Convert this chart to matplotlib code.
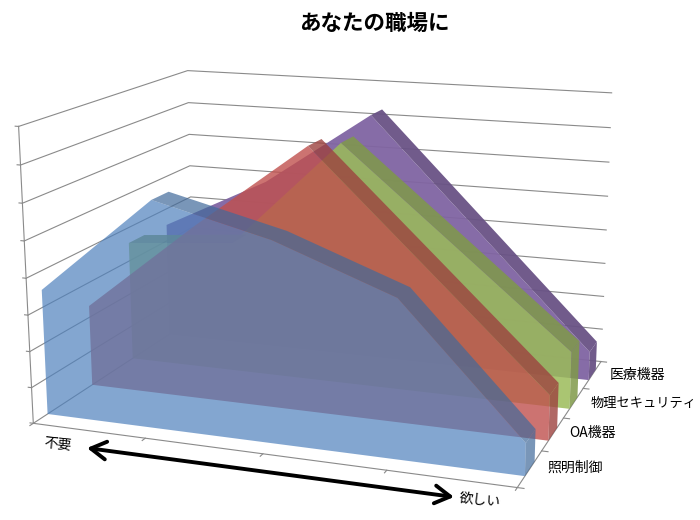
import numpy as np
import matplotlib
matplotlib.use('Agg')
import matplotlib.pyplot as plt
from matplotlib.patches import FancyArrowPatch
from mpl_toolkits.mplot3d.art3d import Poly3DCollection

plt.rcParams['font.family'] = ['Noto Sans CJK JP', 'DejaVu Sans']

series_names = ['照明制御', 'OA機器', '物理セキュリティ', '医療機器']
x_ends = ['不要', '欲しい']

# values per category, unit is one gridline step
lighting = [3.48, 6.17, 5.39, 4.21, 0.86]
oa = [2.33, 4.90, 7.31, 4.28, 1.24]
security = [3.54, 3.82, 6.93, 4.28, 1.62]
medical = [3.50, 5.08, 7.28, 4.06, 0.84]

all_values = [lighting, oa, security, medical]
colors = ['#4F81BD', '#C0504D', '#9BBB59', '#8064A2']
alphas = [0.7, 0.8, 0.85, 0.95]
label_sizes = [10, 10, 9.5, 10]

W, H = 700, 520
fig = plt.figure(figsize=(W/100, H/100), dpi=100)
ax = fig.add_axes([-0.0062, -0.1324, 0.9348, 1.2584], projection='3d', computed_zorder=False)
ax.set_xlim(0, 4, view_margin=0)
ax.set_ylim(0, 4, view_margin=0)
ax.set_zlim(0, 8, view_margin=0)
ax.view_init(14.53, -70.011, 0.136)
ax.set_proj_type('persp', focal_length=0.477)
ax.set_box_aspect((0.804, 0.625, 0.488))
ax.set_axis_off()
ax.patch.set_visible(False)

grid = dict(color='#8A8A8A', lw=0.8, zorder=1)
for z in range(9):
    ax.plot([0, 0, 4], [0, 4, 4], [z, z, z], **grid)
    ax.plot([0, -0.03], [0, 0], [z, z], **grid)
ax.plot([0, 0], [0, 0], [0, 8], **grid)
ax.plot([0, 4, 4], [0, 0, 4], [0, 0, 0], **grid)
for i in range(5):
    ax.plot([i, i], [0, -0.07], [0, 0], **grid)
    ax.plot([4, 4.05], [i, i], [0, 0], **grid)


def darker(color, k=0.82):
    return tuple(c*k for c in matplotlib.colors.to_rgb(color))


def roof_runs(vals):
    # steep rising roof is hidden behind the front face, the rest is joined into runs
    runs, run = [], []
    for i in range(len(vals) - 1):
        if vals[i+1] < vals[i] + 0.5:
            run = run or [i]
            run.append(i + 1)
        elif run:
            runs.append(run)
            run = []
    if run:
        runs.append(run)
    return runs


# back series first so the transparency stacks like the original
y_front, y_back = 0.3, 0.7
for s in [3, 2, 1, 0]:
    vals = all_values[s]
    y0, y1 = s + y_front, s + y_back
    xs = range(len(vals))
    face = [(i, y0, v) for i, v in zip(xs, vals)] + [(4, y0, 0), (0, y0, 0)]
    ax.add_collection3d(Poly3DCollection([face], facecolor=colors[s], edgecolor='none',
                                         alpha=alphas[s], zorder=10*(4-s)))
    polys = []
    for run in roof_runs(vals):
        polys.append([(i, y0, vals[i]) for i in run] + [(i, y1, vals[i]) for i in run[::-1]])
    polys.append([(4, y0, 0), (4, y0, vals[-1]), (4, y1, vals[-1]), (4, y1, 0)])
    ax.add_collection3d(Poly3DCollection(polys, facecolor=darker(colors[s]), edgecolor='none',
                                         alpha=alphas[s], zorder=10*(4-s)+1))


def label(px, py, text, **kw):
    fig.text(px/W, 1 - py/H, text, va='center', **kw)


fig.text(374/W, 1 - 23/H, 'あなたの職場に', ha='center', va='center', fontsize=15.5, fontweight='bold')
for px, py, name, size in zip([547, 569, 591, 610], [468, 433, 403, 375], series_names, label_sizes):
    label(px, py, name, fontsize=size, ha='left')
label(44, 443, x_ends[0], fontsize=10, ha='left', rotation=-6, rotation_mode='anchor')
label(459, 498, x_ends[1], fontsize=10, ha='left', rotation=-6, rotation_mode='anchor')

fig.add_artist(FancyArrowPatch((87/W, 1 - 448/H), (454/W, 1 - 497/H), transform=fig.transFigure,
                               arrowstyle='<->,head_length=0.55,head_width=0.32', mutation_scale=20,
                               lw=2.8, color='black', shrinkA=0, shrinkB=0))

fig.savefig('out.png', dpi=100)
